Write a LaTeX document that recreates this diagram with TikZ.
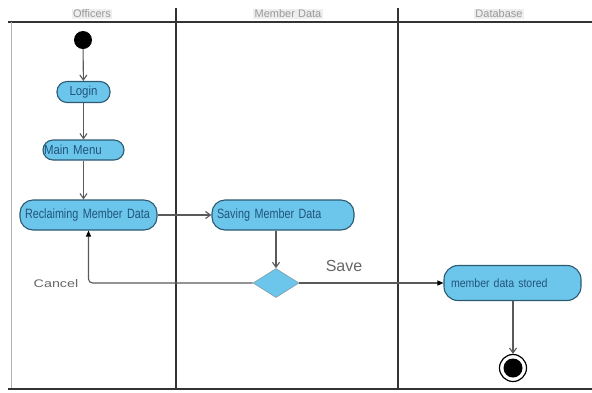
\documentclass[tikz,border=0pt]{standalone}
\usepackage{fontspec}
\setmainfont{Liberation Sans}
\newfontfamily\narrowsans[FakeStretch=0.80,WordSpace=0.7]{Liberation Sans}
\newfontfamily\semisans[FakeStretch=0.88,WordSpace=0.75]{Liberation Sans}
\newfontfamily\widesans[FakeStretch=1.30]{Liberation Sans}
\usetikzlibrary{shapes.geometric,arrows.meta}
\definecolor{actfill}{HTML}{6CC6EC}
\definecolor{actedge}{HTML}{2C5A72}
\definecolor{acttext}{HTML}{22547A}
\definecolor{flow}{HTML}{5A5A5A}
\definecolor{lane}{HTML}{333333}
\definecolor{headbg}{HTML}{EEEEEE}
\definecolor{headtext}{HTML}{999999}
\definecolor{guardtext}{HTML}{666666}
\begin{document}
\begin{tikzpicture}[x=1pt,y=-1pt,
  action/.style={draw=actedge,line width=1.1pt,fill=actfill,rounded corners=10pt,
    minimum height=#1,inner ysep=1pt,text=acttext,align=left},
  action/.default=21pt,
  decision/.style={diamond,draw=actedge!60,fill=actfill,line width=0.6pt,
    minimum width=46pt,minimum height=29pt,inner sep=0pt,aspect=1.6},
  flowline/.style={draw=flow,line width=1.1pt,-{Straight Barb[length=5pt,width=7pt,line width=1.1pt]}},
  guardline/.style={draw=flow,line width=1.1pt,-{Triangle[length=6pt,width=5pt,color=black,fill=black]}},
  lanehead/.style={fill=headbg,text=headtext,inner xsep=1.5pt,inner ysep=1pt,
    font=\fontsize{11}{12}\selectfont},
  guard/.style={text=guardtext}]
\useasboundingbox (0,0) rectangle (592,392);
\fill[white] (0,0) rectangle (592,392);
% swimlane frame
\draw[lane,line width=1.6pt] (8,22) -- (592,22);
\draw[gray!60,line width=0.6pt] (11,22) -- (11,389);
\draw[lane,line width=1.8pt] (176,8) -- (176,389);
\draw[lane,line width=1.8pt] (398,8) -- (398,389);
\draw[lane,line width=1.4pt] (8,389) -- (592,389);
\node[lanehead] (hOff) at (92,14) {Officers};
\node[lanehead] (hMem) at (288,14) {Member Data};
\node[lanehead] (hDb) at (499,14) {Database};
% activities
\node[circle,fill=black,minimum size=18pt,inner sep=0pt] (start) at (83,40) {};
\node[action,inner xsep=4pt,text width=45pt,align=center,
  font=\semisans\fontsize{13}{14}\selectfont] (login) at (83.5,92) {Login};
\node[action=20pt,inner xsep=1pt,text width=79pt,
  font=\semisans\fontsize{13}{14}\selectfont] (menu) at (83.5,150) {Main Menu};
\node[action=30pt,rounded corners=13pt,inner xsep=5pt,text width=127pt,
  font=\narrowsans\fontsize{13.5}{15}\selectfont] (reclaim) at (88.5,215) {Reclaiming Member Data};
\node[action=30pt,rounded corners=13pt,inner xsep=5pt,text width=132pt,
  font=\narrowsans\fontsize{13.5}{15}\selectfont] (saving) at (283,215) {Saving Member Data};
\node[decision] (choice) at (276,283) {};
\node[action=35pt,rounded corners=14pt,inner xsep=7pt,text width=123pt,
  font=\semisans\fontsize{12}{13}\selectfont] (stored) at (512.5,283) {member data stored};
\node[circle,draw=black,line width=1.2pt,fill=white,minimum size=27pt,inner sep=0pt] (finish) at (513,368) {};
\node[circle,fill=black,minimum size=19pt,inner sep=0pt] (finishdot) at (finish) {};
% flows
\draw[flowline] (start) -- (login);
\draw[flowline] (login) -- (login |- menu.north);
\draw[flowline] (menu.south -| login) -- (login |- reclaim.north);
\draw[flowline] (reclaim) -- (saving);
\draw[flowline] (saving.south -| choice) -- (choice.north);
\draw[guardline,rounded corners=4pt] (choice.west) -| (reclaim.south);
\draw[guardline] (choice.east) -- (stored.west);
\draw[flowline] (stored.south -| finish) -- (finish);
\node[guard,font=\widesans\fontsize{11}{12}\selectfont] (cancel) at (56,284) {Cancel};
\node[guard,font=\fontsize{16}{17}\selectfont] (save) at (344,266) {Save};
\end{tikzpicture}
\end{document}
